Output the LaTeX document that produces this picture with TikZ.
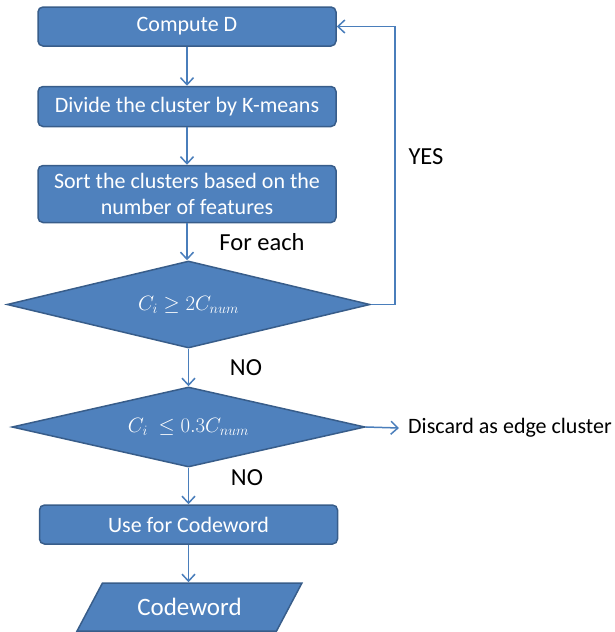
\documentclass[tikz,border=0pt]{standalone}
\usepackage{fontspec}
\setmainfont{Carlito}
\usetikzlibrary{arrows.meta,shapes.geometric}

\definecolor{boxfill}{RGB}{79,129,189}
\definecolor{boxedge}{RGB}{56,93,138}
\definecolor{linkcol}{RGB}{74,126,187}

\tikzset{
  stepbox/.style={draw=boxedge, fill=boxfill, line width=1.5pt, rounded corners=5pt,
    text=white, font=\fontsize{22}{25.5}\selectfont, align=center,
    minimum width=298pt, inner sep=0pt},
  decision/.style={diamond, aspect=4.5, draw=boxedge, fill=boxfill, line width=1.5pt,
    text=white, font=\fontsize{22.5}{26}\selectfont, inner sep=0pt},
  outbox/.style={trapezium, trapezium left angle=49, trapezium right angle=131,
    trapezium stretches=true, draw=boxedge, fill=boxfill, line width=1.5pt,
    text=white, font=\fontsize{25}{29}\selectfont, inner sep=0pt,
    minimum width=225pt, minimum height=48pt},
  conn/.style={draw=linkcol, line width=1.5pt,
    -{Straight Barb[length=7pt,width=13pt,line width=1.5pt]}},
  lbl/.style={font=\fontsize{24.5}{28}\selectfont, text=black, inner sep=0pt},
  sidetext/.style={font=\fontsize{22}{26}\selectfont, text=black}
}

\begin{document}
\begin{tikzpicture}[x=1pt,y=-1pt]
  \useasboundingbox (0,0) rectangle (614,632);

  % process steps
  \node[stepbox, minimum height=39pt] (b1) at (187,26.5) {Compute D};
  \node[stepbox, minimum height=40pt] (b2) at (187,106.5) {Divide the cluster by K-means};
  \node[stepbox, minimum height=57pt] (b3) at (187,194) {Sort the clusters based on the\\number of features};

  % decisions
  \node[decision, minimum width=363pt, minimum height=87pt] (d1) at (188.5,304.5)
    {$C_i \geq 2C_{num}$};
  \node[decision, minimum width=353pt, minimum height=80pt] (d2) at (188.5,427)
    {$C_i\ \leq 0.3C_{num}$};

  % final steps
  \node[stepbox, minimum height=39pt] (b4) at (188.5,524.5) {Use for Codeword};
  \node[outbox] (cw) at (189.5,607) {Codeword};

  % side output
  \node[sidetext, anchor=west, inner xsep=9pt, inner ysep=0pt] (disc) at (399,428)
    {Discard as edge cluster};

  % connectors
  \draw[conn] (b1.south) -- (b2.north);
  \draw[conn] (b2.south) -- (b3.north);
  \draw[conn] (b3.south) -- (b3.south |- d1.north);
  \draw[conn] (d1.south) -- (d1.south |- d2.north);
  \draw[conn] (d2.south) -- (d2.south |- b4.north);
  \draw[conn] (b4.south) -- (b4.south |- cw.north);
  \draw[conn] (d1.east) -- ++(24,0) |- (b1.east);
  \draw[conn] (d2.east) -- (disc.west);

  % branch labels
  \node[lbl] (feach) at (262,242) {For each};
  \node[lbl] (yes) at (426,157) {YES};
  \node[lbl] (no1) at (246,368) {NO};
  \node[lbl] (no2) at (247,478) {NO};
\end{tikzpicture}
\end{document}
